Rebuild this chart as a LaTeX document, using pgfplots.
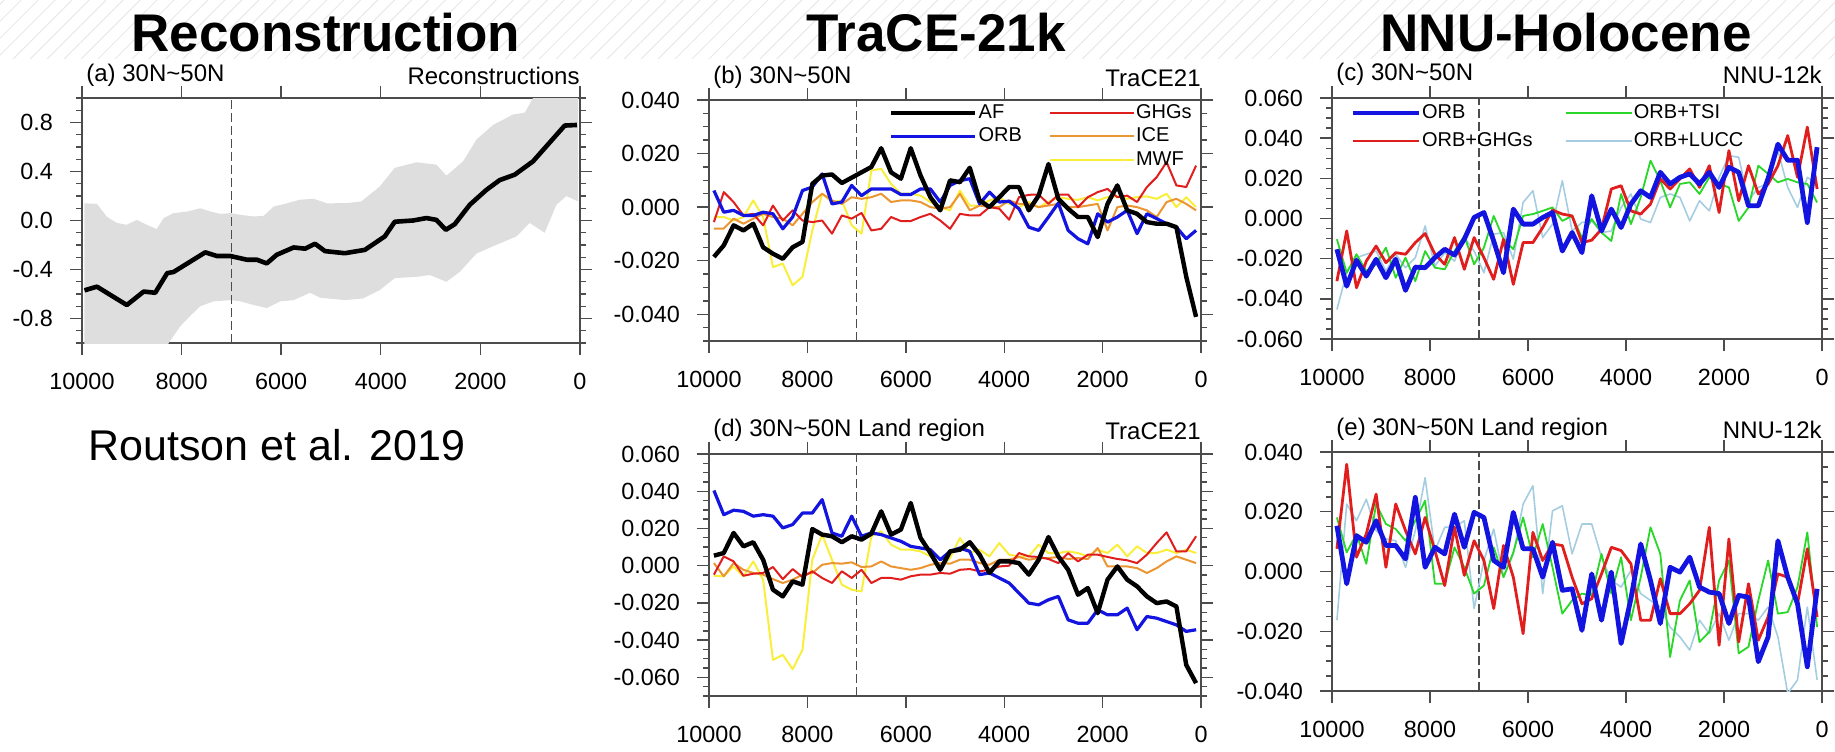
\documentclass[border=0pt]{standalone}
\usepackage{fontspec}
\setmainfont{Liberation Sans}
\usepackage{pgfplots}
\usepackage{pgfplotstable}
\pgfplotsset{compat=1.18}
\usetikzlibrary{patterns.meta}

\definecolor{nclblue}{RGB}{20,20,225}
\definecolor{nclred}{RGB}{225,30,30}
\definecolor{nclorange}{RGB}{235,150,50}
\definecolor{nclyellow}{RGB}{250,238,60}
\definecolor{nclgreen}{RGB}{40,215,40}
\definecolor{ncllblue}{RGB}{165,205,225}
\definecolor{bandgray}{RGB}{222,222,222}

% ---------- panel (a): reconstruction ----------
\pgfplotstableread{
t v
9950 -0.57
9700 -0.54
9100 -0.69
8760 -0.58
8530 -0.59
8290 -0.43
8160 -0.42
7525 -0.26
7290 -0.29
7020 -0.29
6690 -0.32
6490 -0.32
6290 -0.35
6090 -0.28
5750 -0.22
5520 -0.23
5320 -0.19
5120 -0.25
4722 -0.267
4321 -0.24
3920 -0.13
3719 -0.01
3351 0.0
3083 0.02
2883 0.005
2695 -0.076
2515 -0.03
2214 0.128
1879 0.25
1612 0.33
1311 0.374
943 0.483
675 0.606
307 0.775
60 0.78
}\recon

\pgfplotstableread{
t v
9950 0.14
9700 0.136
9500 0.03
9300 -0.02
9100 -0.035
8900 0.005
8700 -0.035
8500 -0.07
8360 0.02
8160 0.06
7890 0.073
7625 0.10
7420 0.073
7220 0.054
7020 0.06
6820 0.046
6550 0.033
6350 0.038
6150 0.114
5890 0.14
5620 0.17
5350 0.177
5080 0.14
4689 0.142
4388 0.156
4020 0.278
3719 0.43
3284 0.475
2883 0.456
2682 0.366
2348 0.483
2080 0.66
1745 0.78
1344 0.865
1110 0.88
943 1.0
700 1.2
40 1.2
40 0.156
274 0.20
474 0.128
709 -0.10
1010 -0.02
1277 -0.13
1745 -0.21
2080 -0.27
2415 -0.42
2682 -0.50
3017 -0.445
3284 -0.46
3719 -0.47
4020 -0.568
4355 -0.636
4722 -0.65
5220 -0.63
5420 -0.59
5750 -0.65
6020 -0.66
6290 -0.715
6550 -0.69
6820 -0.66
7020 -0.65
7360 -0.66
7625 -0.70
7830 -0.78
8030 -0.865
8260 -1.0
8500 -1.3
9950 -1.3
}\band

% ---------- panel (b): TraCE21, 30N-50N ----------
\pgfplotstableread{
t af orb ghg ice mwf
9900 -0.0186 0.0062 -0.0056 -0.0080 -0.0037
9700 -0.0143 -0.0019 0.0056 -0.0080 -0.0037
9500 -0.0068 -0.0012 0.0019 -0.0043 -0.0050
9300 -0.0087 -0.0031 -0.0031 -0.0062 -0.0037
9100 -0.0062 -0.0031 -0.0025 -0.0043 0.0025
8900 -0.0150 -0.0019 -0.0068 -0.0025 -0.0037
8700 -0.0174 -0.0025 0.0006 -0.0037 -0.0224
8500 -0.0193 -0.0081 -0.0050 -0.0043 -0.0211
8300 -0.0150 -0.0037 -0.0012 -0.0068 -0.0292
8100 -0.0130 0.0062 -0.0050 -0.0025 -0.0260
7900 0.0087 0.0075 -0.0056 0.0019 -0.0087
7700 0.0118 0.0124 -0.0050 0.0050 0.0050
7500 0.0122 0.0012 -0.0099 0.0025 0.0019
7300 0.0090 0.0019 -0.0031 0.0012 0.0025
7100 0.0110 0.0081 -0.0043 0.0037 -0.0068
6900 0.0130 0.0043 -0.0022 0.0031 -0.0099
6700 0.0150 0.0068 -0.0087 0.0037 0.0137
6500 0.0220 0.0068 -0.0081 0.0050 0.0143
6300 0.0130 0.0068 -0.0037 0.0019 0.0087
6100 0.0106 0.0047 -0.0052 0.0025 0.0050
5900 0.0220 0.0047 -0.0052 0.0025 0.0050
5700 0.0118 0.0068 -0.0037 0.0019 0.0043
5500 0.0037 0.0068 -0.0025 0.0000 0.0019
5300 -0.0012 0.0019 -0.0050 -0.0006 0.0000
5100 0.0100 0.0081 -0.0081 0.0000 -0.0012
4900 0.0093 0.0099 -0.0025 0.0050 0.0062
4700 0.0147 0.0106 -0.0031 -0.0012 0.0006
4500 0.0025 0.0012 -0.0031 0.0006 0.0006
4300 0.0000 0.0056 0.0000 0.0000 0.0025
4100 0.0037 0.0019 -0.0006 0.0000 0.0037
3900 0.0075 0.0022 -0.0047 0.0025 0.0012
3700 0.0075 -0.0006 0.0037 0.0012 0.0000
3500 -0.0012 -0.0075 0.0046 0.0012 0.0019
3300 0.0043 -0.0087 0.0047 0.0000 0.0000
3100 0.0161 -0.0037 0.0012 0.0006 0.0019
2900 0.0031 0.0015 0.0047 0.0012 0.0037
2700 -0.0006 -0.0087 0.0047 0.0000 0.0031
2500 -0.0037 -0.0118 0.0000 0.0000 0.0027
2300 -0.0037 -0.0137 0.0037 0.0006 0.0037
2100 -0.0112 -0.0025 0.0056 0.0012 0.0025
1900 0.0012 -0.0056 0.0068 -0.0087 0.0037
1700 0.0081 -0.0037 0.0037 0.0000 0.0040
1500 -0.0012 -0.0012 0.0043 0.0006 0.0031
1300 -0.0025 -0.0099 0.0019 0.0000 0.0037
1100 -0.0056 -0.0025 0.0075 -0.0012 0.0040
900 -0.0062 -0.0043 0.0112 -0.0037 0.0031
700 -0.0062 -0.0062 0.0168 0.0019 0.0050
500 -0.0075 -0.0075 0.0081 0.0031 0.0000
300 -0.0260 -0.0118 0.0075 0.0012 0.0037
100 -0.0410 -0.0087 0.0155 -0.0012 0.0000
}\tb

% ---------- panel (d): TraCE21, land ----------
\pgfplotstableread{
t af orb ghg ice mwf
9900 0.0054 0.0404 -0.0048 0.0014 -0.0054
9700 0.0068 0.0274 0.0050 -0.0057 -0.0057
9500 0.0176 0.0298 0.0023 0.0014 -0.0004
9300 0.0104 0.0292 -0.0054 -0.0022 -0.0057
9100 0.0126 0.0266 -0.0043 -0.0039 0.0023
8900 0.0032 0.0274 -0.0039 -0.0048 -0.0075
8700 -0.0129 0.0266 -0.0007 -0.0072 -0.0506
8500 -0.0165 0.0203 -0.0072 -0.0093 -0.0479
8300 -0.0084 0.0221 -0.0018 -0.0075 -0.0556
8100 -0.0102 0.0283 -0.0061 -0.0048 -0.0452
7900 0.0197 0.0283 -0.0030 -0.0039 0.0032
7700 0.0167 0.0355 -0.0066 0.0005 0.0167
7500 0.0158 0.0176 -0.0093 0.0014 0.0032
7300 0.0126 0.0158 -0.0030 0.0011 -0.0102
7100 0.0158 0.0266 -0.0066 0.0018 -0.0129
6900 0.0140 0.0158 -0.0022 -0.0007 -0.0138
6700 0.0172 0.0176 -0.0093 -0.0004 0.0158
6500 0.0292 0.0167 -0.0066 0.0023 0.0185
6300 0.0167 0.0149 -0.0066 -0.0004 0.0113
6100 0.0194 0.0131 -0.0075 -0.0013 0.0086
5900 0.0337 0.0104 -0.0057 -0.0022 0.0086
5700 0.0149 0.0095 -0.0048 -0.0013 0.0077
5500 0.0068 0.0086 -0.0048 0.0005 0.0050
5300 -0.0022 0.0032 -0.0039 0.0014 -0.0004
5100 0.0077 0.0077 -0.0043 0.0011 0.0041
4900 0.0086 0.0095 -0.0022 0.0032 0.0149
4700 0.0126 0.0077 -0.0018 0.0032 0.0068
4500 0.0059 -0.0048 -0.0030 0.0014 0.0086
4300 -0.0039 -0.0039 -0.0022 0.0005 0.0050
4100 0.0023 -0.0066 -0.0004 0.0032 0.0122
3900 0.0023 -0.0093 0.0000 0.0032 0.0059
3700 0.0014 -0.0147 0.0068 0.0047 0.0050
3500 -0.0048 -0.0201 0.0050 0.0032 0.0050
3300 0.0032 -0.0210 0.0047 0.0041 0.0113
3100 0.0154 -0.0183 0.0036 0.0041 0.0068
2900 0.0050 -0.0165 0.0014 0.0047 0.0068
2700 -0.0022 -0.0291 0.0068 0.0036 0.0077
2500 -0.0156 -0.0309 0.0023 0.0041 0.0068
2300 -0.0120 -0.0309 0.0059 0.0036 0.0050
2100 -0.0255 -0.0237 0.0059 0.0095 0.0086
1900 -0.0075 -0.0264 0.0047 -0.0004 0.0068
1700 -0.0004 -0.0264 0.0036 -0.0004 0.0113
1500 -0.0075 -0.0228 0.0029 -0.0004 0.0050
1300 -0.0111 -0.0344 0.0014 -0.0013 0.0104
1100 -0.0165 -0.0273 0.0059 -0.0039 0.0068
900 -0.0201 -0.0282 0.0122 -0.0013 0.0068
700 -0.0192 -0.0300 0.0179 0.0023 0.0086
500 -0.0219 -0.0318 0.0077 0.0050 0.0068
300 -0.0533 -0.0353 0.0077 0.0032 0.0086
100 -0.0631 -0.0344 0.0158 0.0014 0.0068
}\td

% ---------- panel (c): NNU-12k, 30N-50N ----------
\pgfplotstableread{
t orb ghg tsi lucc
9900 -0.0153 -0.0312 -0.0103 -0.0453
9700 -0.0337 -0.0062 -0.0270 -0.0270
9500 -0.0208 -0.0345 -0.0178 -0.0195
9300 -0.0287 -0.0212 -0.0262 -0.0178
9100 -0.0203 -0.0137 -0.0228 -0.0162
8900 -0.0295 -0.0220 -0.0145 -0.0262
8700 -0.0203 -0.0170 -0.0295 -0.0178
8500 -0.0358 -0.0178 -0.0195 -0.0245
8300 -0.0242 -0.0120 -0.0312 -0.0195
8100 -0.0245 -0.0075 -0.0162 -0.0037
7900 -0.0195 -0.0178 -0.0245 -0.0237
7700 -0.0153 -0.0228 -0.0253 -0.0170
7500 -0.0182 -0.0095 -0.0162 -0.0212
7300 -0.0103 -0.0253 -0.0087 -0.0095
7100 0.0005 -0.0095 -0.0228 -0.0162
6900 0.0030 -0.0195 -0.0145 -0.0270
6700 -0.0112 -0.0303 0.0013 -0.0078
6500 -0.0270 -0.0103 -0.0103 -0.0070
6300 0.0047 -0.0328 -0.0153 -0.0203
6100 -0.0028 -0.0120 0.0013 0.0080
5900 -0.0028 -0.0120 0.0022 0.0138
5700 0.0005 -0.0045 0.0038 -0.0095
5500 0.0030 0.0042 0.0055 -0.0028
5300 -0.0162 0.0022 -0.0012 0.0188
5100 -0.0070 0.0013 0.0013 -0.0062
4900 -0.0170 -0.0120 -0.0095 -0.0020
4700 0.0113 -0.0108 -0.0003 -0.0012
4500 -0.0062 -0.0053 -0.0070 -0.0070
4300 0.0047 0.0147 -0.0112 -0.0062
4100 -0.0045 0.0163 0.0122 0.0055
3900 0.0072 0.0038 -0.0028 0.0122
3700 0.0138 0.0022 0.0105 -0.0003
3500 0.0105 0.0072 0.0288 -0.0020
3300 0.0230 0.0197 0.0188 0.0105
3100 0.0172 0.0147 0.0055 0.0122
2900 0.0205 0.0197 0.0172 0.0105
2700 0.0222 0.0247 0.0180 -0.0012
2500 0.0172 0.0155 0.0122 0.0088
2300 0.0230 0.0263 0.0205 0.0038
2100 0.0155 0.0030 0.0172 0.0205
1900 0.0255 0.0338 0.0155 0.0313
1700 0.0230 0.0088 -0.0012 0.0305
1500 0.0063 0.0263 0.0055 0.0088
1300 0.0063 0.0122 0.0263 0.0155
1100 0.0200 0.0172 0.0222 0.0172
900 0.0370 0.0263 0.0180 0.0338
700 0.0290 0.0413 0.0197 0.0155
500 0.0290 0.0205 0.0180 0.0055
300 -0.0020 0.0455 0.0172 0.0205
100 0.0355 0.0147 0.0080 0.0172
}\tc

% ---------- panel (e): NNU-12k, land ----------
\pgfplotstableread{
t orb ghg tsi lucc
9900 0.0153 0.0076 0.0181 -0.0163
9700 -0.0041 0.0359 0.0064 0.0226
9500 0.0120 0.0048 0.0126 0.0170
9300 0.0098 0.0126 0.0026 0.0242
9100 0.0170 0.0259 0.0226 0.0137
8900 0.0087 0.0014 0.0159 0.0109
8700 0.0087 0.0226 0.0142 0.0103
8500 0.0042 0.0137 0.0103 0.0014
8300 0.0248 0.0059 0.0170 0.0137
8100 0.0014 0.0181 0.0237 0.0314
7900 0.0081 0.0070 -0.0041 0.0070
7700 0.0059 -0.0047 -0.0041 0.0148
7500 0.0192 0.0148 0.0081 0.0148
7300 0.0081 -0.0013 0.0014 0.0170
7100 0.0198 0.0103 -0.0074 -0.0124
6900 0.0181 0.0037 -0.0047 0.0037
6700 0.0037 -0.0124 0.0081 0.0142
6500 0.0014 0.0087 -0.0019 -0.0019
6300 0.0198 -0.0019 0.0064 0.0059
6100 0.0076 -0.0208 0.0181 0.0226
5900 0.0076 0.0131 0.0048 0.0287
5700 -0.0019 0.0037 0.0159 -0.0074
5500 0.0098 0.0092 0.0014 0.0203
5300 -0.0063 0.0087 -0.0141 0.0220
5100 -0.0058 -0.0019 -0.0097 0.0059
4900 -0.0197 -0.0108 -0.0074 0.0159
4700 -0.0008 -0.0091 -0.0080 0.0159
4500 -0.0163 -0.0008 0.0059 0.0048
4300 -0.0002 0.0081 -0.0074 -0.0030
4100 -0.0241 0.0070 0.0048 -0.0052
3900 -0.0091 0.0026 -0.0163 0.0003
3700 0.0092 -0.0163 -0.0019 -0.0074
3500 -0.0030 -0.0163 0.0148 -0.0097
3300 -0.0174 -0.0024 0.0059 -0.0119
3100 0.0014 -0.0141 -0.0286 -0.0186
2900 -0.0002 -0.0141 -0.0097 -0.0219
2700 0.0048 -0.0108 -0.0030 -0.0263
2500 -0.0052 -0.0063 -0.0236 -0.0163
2300 -0.0069 0.0148 -0.0202 -0.0208
2100 -0.0074 -0.0247 -0.0030 -0.0141
1900 -0.0174 0.0109 0.0037 -0.0230
1700 -0.0080 -0.0236 -0.0274 -0.0141
1500 -0.0086 -0.0041 -0.0252 -0.0141
1300 -0.0302 -0.0230 -0.0097 -0.0163
1100 -0.0219 -0.0152 0.0037 -0.0119
900 0.0103 -0.0008 -0.0141 -0.0219
700 -0.0019 -0.0019 -0.0136 -0.0408
500 -0.0108 -0.0108 -0.0052 -0.0363
300 -0.0319 0.0076 0.0131 -0.0119
100 -0.0058 -0.0152 -0.0186 -0.0363
}\te

\pgfplotsset{
  ncl/.style={
    scale only axis,
    x dir=reverse, xmin=0, xmax=10000,
    xtick={0,2000,4000,6000,8000,10000},
    scaled x ticks=false, scaled y ticks=false,
    tick align=outside,
    major tick length=6pt, minor tick length=3pt,
    minor y tick num=3,
    axis line style={black!70, line width=0.9pt},
    every tick/.append style={black!70, line width=0.7pt},
    tick label style={font=\fontsize{11.7}{13}\selectfont},
    /pgf/number format/1000 sep={},
    /pgf/number format/assume math mode=true,
    yticklabel style={/pgf/number format/fixed, /pgf/number format/fixed zerofill, /pgf/number format/precision=3, xshift=-5pt},
    xticklabel style={yshift=-5.5pt},
    clip mode=individual,
    every axis plot/.append style={line join=round},
  },
  vline/.style={black!70, line width=0.7pt, dash pattern=on 4.5pt off 2pt},
  leg/.style={
    legend columns=2,
    legend cell align=left,
    legend style={anchor=north west, draw=none, fill=none, inner sep=0pt, outer sep=0pt,
      font=\fontsize{10}{11}\selectfont,
      cells={anchor=west},
      nodes={inner sep=0.6pt, text height=7pt, text depth=1.5pt}},
  },
}
\tikzset{lab/.style={font=\fontsize{12}{14}\selectfont, inner sep=0pt}}

\begin{document}
\begin{tikzpicture}
\useasboundingbox (0pt,0pt) rectangle (917.5pt,375.5pt);
% faint hatched slide background behind the titles
\fill[pattern={Lines[angle=45, distance=6pt, line width=0.5pt]}, pattern color=black!9]
  (0pt,346pt) rectangle (917.5pt,375.5pt);

% ---- (a) ----
\begin{axis}[ncl, name=pa, at={(41pt,204pt)}, anchor=south west,
  width=249pt, height=122.5pt, ymin=-1, ymax=1,
  ytick={-1.2,-0.8,-0.4,0,0.4,0.8,1.2},
  yticklabel style={/pgf/number format/precision=1}]
\addplot[fill=bandgray, draw=none] table[x=t,y=v]{\band};
\addplot[vline] coordinates {(7000,-1) (7000,1)};
\addplot[black, line width=2.3pt] table[x=t,y=v]{\recon};
\end{axis}

% ---- (b) ----
\begin{axis}[ncl, leg, name=pb, at={(354.5pt,205pt)}, anchor=south west,
  width=246pt, height=120.5pt, ymin=-0.05, ymax=0.04,
  ytick={-0.06,-0.04,-0.02,0,0.02,0.04,0.06},
  legend image code/.code={\draw[#1] (0pt,0pt) -- (42pt,0pt);},
  legend style={at={(0.366,0.986)}, row sep=2pt,
    /tikz/every even column/.append style={column sep=12.8pt}}]
\addplot[vline, forget plot] coordinates {(7000,-0.05) (7000,0.04)};
\addplot[nclyellow, line width=1pt, forget plot] table[x=t,y=mwf]{\tb};
\addplot[nclorange, line width=1pt, forget plot] table[x=t,y=ice]{\tb};
\addplot[nclred, line width=1pt, forget plot] table[x=t,y=ghg]{\tb};
\addplot[nclblue, line width=1.6pt, forget plot] table[x=t,y=orb]{\tb};
\addplot[black, line width=2.2pt, forget plot] table[x=t,y=af]{\tb};
\addlegendimage{black, line width=2.2pt}\addlegendentry{AF}
\addlegendimage{nclred, line width=1pt}\addlegendentry{GHGs}
\addlegendimage{nclblue, line width=1.6pt}\addlegendentry{ORB}
\addlegendimage{nclorange, line width=1pt}\addlegendentry{ICE}
\addlegendimage{empty legend}\addlegendentry{}
\addlegendimage{nclyellow, line width=1pt}\addlegendentry{MWF}
\end{axis}

% ---- (c) ----
\begin{axis}[ncl, leg, name=pc, at={(666pt,206pt)}, anchor=south west,
  width=245pt, height=120.5pt, ymin=-0.06, ymax=0.06,
  ytick={-0.06,-0.04,-0.02,0,0.02,0.04,0.06},
  legend image code/.code={\draw[#1] (0pt,0pt) -- (33pt,0pt);},
  legend style={at={(0.037,0.978)}, row sep=4.3pt,
    /tikz/every even column/.append style={column sep=15.5pt}}]
\addplot[vline, forget plot] coordinates {(7000,-0.06) (7000,0.06)};
\addplot[ncllblue, line width=0.8pt, forget plot] table[x=t,y=lucc]{\tc};
\addplot[nclgreen, line width=0.9pt, forget plot] table[x=t,y=tsi]{\tc};
\addplot[nclred, line width=1.4pt, forget plot] table[x=t,y=ghg]{\tc};
\addplot[nclblue, line width=2.4pt, forget plot] table[x=t,y=orb]{\tc};
\addlegendimage{nclblue, line width=2.4pt}\addlegendentry{ORB}
\addlegendimage{nclgreen, line width=0.9pt}\addlegendentry{ORB+TSI}
\addlegendimage{nclred, line width=1.4pt}\addlegendentry{ORB+GHGs}
\addlegendimage{ncllblue, line width=0.8pt}\addlegendentry{ORB+LUCC}
\end{axis}

% ---- (d) ----
\begin{axis}[ncl, name=pd, at={(354.5pt,27.5pt)}, anchor=south west,
  width=246pt, height=121pt, ymin=-0.07, ymax=0.06,
  ytick={-0.08,-0.06,-0.04,-0.02,0,0.02,0.04,0.06,0.08}]
\addplot[vline] coordinates {(7000,-0.07) (7000,0.06)};
\addplot[nclyellow, line width=1pt] table[x=t,y=mwf]{\td};
\addplot[nclorange, line width=1pt] table[x=t,y=ice]{\td};
\addplot[nclred, line width=1pt] table[x=t,y=ghg]{\td};
\addplot[nclblue, line width=1.6pt] table[x=t,y=orb]{\td};
\addplot[black, line width=2.2pt] table[x=t,y=af]{\td};
\end{axis}

% ---- (e) ----
\begin{axis}[ncl, name=pe, at={(666pt,30pt)}, anchor=south west,
  width=245pt, height=119.5pt, ymin=-0.04, ymax=0.04,
  ytick={-0.06,-0.04,-0.02,0,0.02,0.04,0.06}]
\addplot[vline] coordinates {(7000,-0.04) (7000,0.04)};
\addplot[ncllblue, line width=0.8pt] table[x=t,y=lucc]{\te};
\addplot[nclgreen, line width=0.9pt] table[x=t,y=tsi]{\te};
\addplot[nclred, line width=1.4pt] table[x=t,y=ghg]{\te};
\addplot[nclblue, line width=2.4pt] table[x=t,y=orb]{\te};
\end{axis}

% ---- panel strings ----
\node[lab, anchor=base west] at ([xshift=2pt,yshift=8.5pt]pa.north west) {(a) 30N\textasciitilde 50N};
\node[lab, anchor=base east] at ([yshift=7pt]pa.north east) {Reconstructions};
\node[lab, anchor=base west] at ([xshift=2pt,yshift=8.5pt]pb.north west) {(b) 30N\textasciitilde 50N};
\node[lab, anchor=base east] at ([yshift=7pt]pb.north east) {TraCE21};
\node[lab, anchor=base west] at ([xshift=2pt,yshift=8.5pt]pc.north west) {(c) 30N\textasciitilde 50N};
\node[lab, anchor=base east] at ([yshift=7pt]pc.north east) {NNU-12k};
\node[lab, anchor=base west] at ([xshift=2pt,yshift=8.5pt]pd.north west) {(d) 30N\textasciitilde 50N Land region};
\node[lab, anchor=base east] at ([yshift=7pt]pd.north east) {TraCE21};
\node[lab, anchor=base west] at ([xshift=2pt,yshift=8.5pt]pe.north west) {(e) 30N\textasciitilde 50N Land region};
\node[lab, anchor=base east] at ([yshift=7pt]pe.north east) {NNU-12k};

% ---- big titles ----
\node[anchor=base, font=\fontsize{26.5}{30}\selectfont\bfseries, inner sep=0pt] at (163pt,349.5pt) {Reconstruction};
\node[anchor=base, font=\fontsize{26.5}{30}\selectfont\bfseries, inner sep=0pt] at (468pt,349.5pt) {TraCE-21k};
\node[anchor=base, font=\fontsize{26.5}{30}\selectfont\bfseries, inner sep=0pt] at (783pt,349.5pt) {NNU-Holocene};
\node[anchor=base west, font=\fontsize{21.5}{24}\selectfont, inner sep=0pt] at (44pt,145.5pt) {Routson et al. 2019};
\end{tikzpicture}
\end{document}
